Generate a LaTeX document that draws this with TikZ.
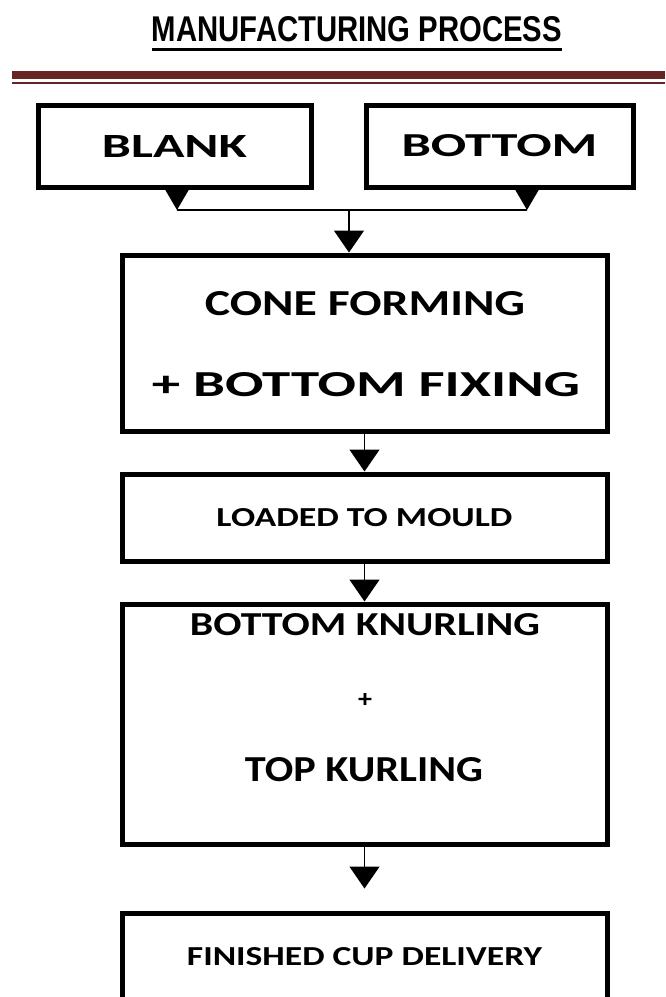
\documentclass[tikz,border=0pt]{standalone}
\usepackage{fontspec}
\newfontfamily\boxfont{Carlito}
\newfontfamily\titlefont{Liberation Sans}
\usetikzlibrary{arrows.meta}
\definecolor{rulered}{RGB}{102,36,36}
\newcommand{\fitto}[3]{\resizebox{#1pt}{#2pt}{#3}}
\tikzset{stage/.style={draw,line width=5pt,inner sep=0pt,font=\boxfont\bfseries},
  stagetext/.style={inner sep=0pt,font=\boxfont\bfseries},
  flow/.style={line width=1.5pt,-{Triangle[width=30pt,length=22pt]}},
  feed/.style={line width=1.5pt,-{Triangle[width=23pt,length=20pt]}}}

\begin{document}
\begin{tikzpicture}[x=1pt,y=-1pt]
\clip (0,0) rectangle (665,997);
% title and rule
\node[inner sep=0pt,font=\titlefont\bfseries] (title) at (357,29.5)
  {\fitto{410}{25}{MANUFACTURING PROCESS}};
\draw[line width=3pt] ([yshift=-7pt]title.south west) -- ([yshift=-7pt]title.south east);
\fill[rulered] (12,71) rectangle (665,79);
\draw[rulered,line width=2pt] (12,82.5) -- (665,82.5);

% inputs
\node[stage,minimum width=273pt,minimum height=82pt] (blank) at (174.5,146)
  {\fitto{145}{22}{BLANK}};
\node[stage,minimum width=267pt,minimum height=82pt] (bottom) at (499.5,146)
  {\fitto{196}{22}{BOTTOM}};

% process steps
\node[stage,minimum width=485pt,minimum height=176pt] (cone) at (364.5,343) {};
\node[stagetext] (cone1) at (365,304) {\fitto{320}{24}{CONE FORMING}};
\node[stagetext] (cone2) at (366,385) {\fitto{428}{24}{+ BOTTOM FIXING}};
\node[stage,minimum width=485pt,minimum height=87pt] (load) at (364.5,517.5)
  {\fitto{296}{18}{LOADED TO MOULD}};
\node[stage,minimum width=485pt,minimum height=240pt] (knurl) at (364.5,724) {};
\node[stagetext] (knurl1) at (365,624.5) {\fitto{350}{22}{BOTTOM KNURLING}};
\node[stagetext] (knurl2) at (365,700) {\fitto{14}{14}{+}};
\node[stagetext] (knurl3) at (364,770) {\fitto{238}{24}{TOP KURLING}};
\node[stage,minimum width=485pt,minimum height=88pt] (deliver) at (364.5,957)
  {\fitto{355}{18}{FINISHED CUP DELIVERY}};

% connectors
\coordinate (join) at (349,210);
\coordinate (blankout) at ([xshift=2.5pt]blank.south);
\coordinate (bottomout) at ([xshift=27.5pt]bottom.south);
\draw[feed] (blankout) -- (blankout |- join);
\draw[feed] (bottomout) -- (bottomout |- join);
\draw[line width=1.5pt] (blankout |- join) -- (bottomout |- join);
\draw[flow] (join) -- (join |- cone.north);
\draw[flow] (cone.south) -- (load.north);
\draw[flow] (load.south) -- (knurl.north);
\draw[flow] (knurl.south) -- ([yshift=22pt]deliver.north);
\end{tikzpicture}
\end{document}
